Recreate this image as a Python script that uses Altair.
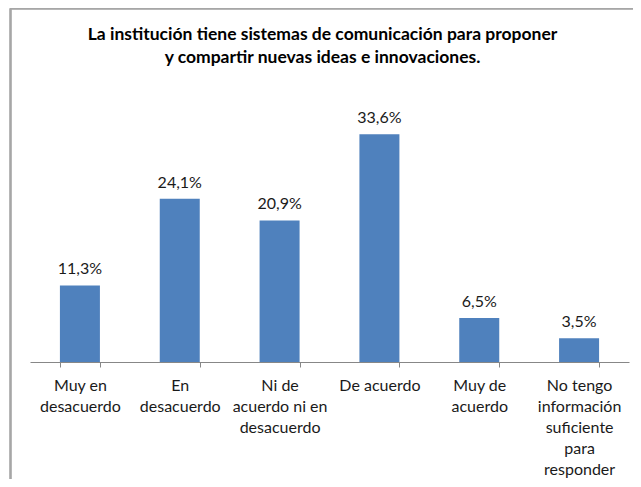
import altair as alt
import pandas as pd

categories = [
    "Muy en|desacuerdo",
    "En|desacuerdo",
    "Ni de|acuerdo ni en|desacuerdo",
    "De acuerdo",
    "Muy de|acuerdo",
    "No tengo|información|suficiente|para|responder",
]
values = [11.3, 24.1, 20.9, 33.6, 6.5, 3.5]
title_lines = [
    "La institución tiene sistemas de comunicación para proponer",
    "y compartir nuevas ideas e innovaciones.",
]

df = pd.DataFrame({"cat": categories, "v": values})

FONT = "Lato"

x_enc = alt.X(
    "cat:N",
    sort=categories,
    title=None,
    scale=alt.Scale(paddingInner=0.6, paddingOuter=0.3),
    axis=alt.Axis(
        labelExpr="split(datum.label, '|')",
        labelAngle=0,
        labelFont=FONT,
        labelFontSize=16,
        labelColor="#1a1a1a",
        labelLineHeight=21,
        labelPadding=10,
        labelLimit=200,
        domainColor="#878787",
        tickColor="#878787",
        tickSize=5,
        tickBand="extent",
        grid=False,
    ),
)
y_enc = alt.Y("v:Q", scale=alt.Scale(domain=[0, 40]), axis=None)

base = alt.Chart(df)

frame_top = base.mark_rule(stroke="#a6a6a6", strokeWidth=1.5).encode(
    x=alt.value(-19.5), x2=alt.value(603), y=alt.value(-82.5)
)
frame_left = base.mark_rule(stroke="#a6a6a6", strokeWidth=1.5).encode(
    x=alt.value(-19.5), y=alt.value(-82.5), y2=alt.value(388)
)

bars = base.mark_bar(color="#4f81bd", size=40).encode(x=x_enc, y=y_enc)

labels = base.transform_calculate(
    lbl="replace(format(datum.v, '.1f'), '.', ',') + '%'"
).mark_text(
    baseline="bottom", dy=-8, font=FONT, fontSize=16, color="#1a1a1a"
).encode(x=x_enc, y=y_enc, text="lbl:N")

chart = (
    alt.layer(frame_top, frame_left, bars, labels)
    .properties(
        width=599,
        height=271,
        autosize=alt.AutoSizeParams(type="none"),
        padding={"left": 22, "top": 83, "right": 4, "bottom": 117},
        title=alt.TitleParams(
            text=title_lines,
            font=FONT,
            fontSize=17.5,
            fontWeight="bold",
            color="#000000",
            lineHeight=23,
            offset=-59,
            dx=-7,
            anchor="middle",
            frame="group",
        ),
    )
    .configure_view(stroke=None)
)

chart.save("out.html", embed_options={"renderer": "svg", "actions": False})
